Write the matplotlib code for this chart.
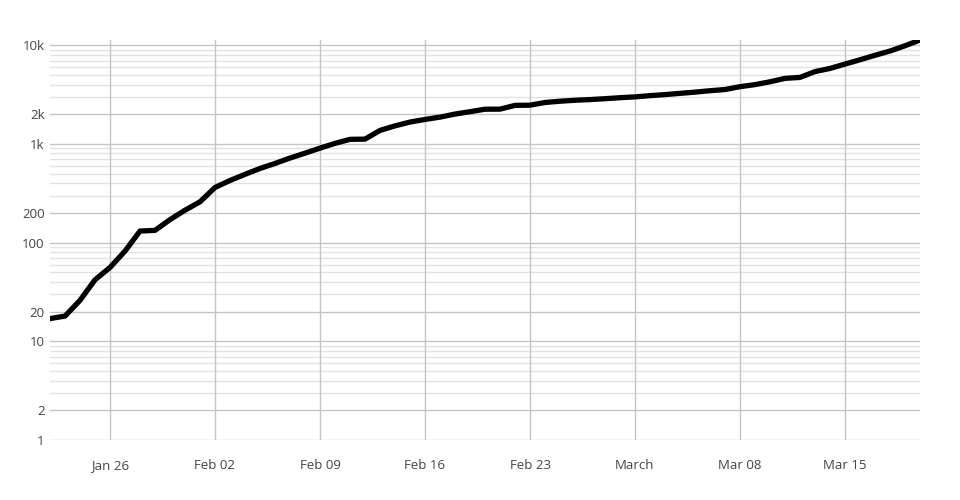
import datetime as dt
import numpy as np
import matplotlib
matplotlib.use("Agg")
import matplotlib.pyplot as plt
import matplotlib.dates as mdates
from matplotlib.ticker import FixedLocator, NullFormatter

plt.rcParams['font.family'] = ['Open Sans', 'DejaVu Sans']

start = dt.date(2020, 1, 22)
deaths = [17, 18, 26, 42, 56, 82, 131, 133, 171, 213,
          259, 362, 426, 492, 564, 634, 719, 806, 906, 1013,
          1113, 1118, 1371, 1523, 1666, 1770, 1868, 2007, 2122, 2247,
          2251, 2458, 2469, 2629, 2708, 2770, 2814, 2872, 2941, 2996,
          3085, 3160, 3254, 3348, 3460, 3558, 3802, 3988, 4262, 4615,
          4720, 5404, 5819, 6440, 7126, 7905, 8733, 9867, 11299]
dates = [start + dt.timedelta(days=i) for i in range(len(deaths))]

xtick_dates = [dt.date(2020, 1, 26), dt.date(2020, 2, 2), dt.date(2020, 2, 9),
               dt.date(2020, 2, 16), dt.date(2020, 2, 23), dt.date(2020, 3, 1),
               dt.date(2020, 3, 8), dt.date(2020, 3, 15)]
xtick_labels = ['Jan 26', 'Feb 02', 'Feb 09', 'Feb 16', 'Feb 23', 'March', 'Mar 08', 'Mar 15']
ytick_vals = [1, 2, 10, 20, 100, 200, 1000, 2000, 10000]
ytick_labels = ['1', '2', '10', '20', '100', '200', '1k', '2k', '10k']

fig = plt.figure(figsize=(9.6, 5), dpi=100)
ax = fig.add_axes([50 / 960, 60 / 500, 870 / 960, 400 / 500])

# grid lines for every 1..9 step in each decade
minor = [m * 10 ** d for d in range(5) for m in range(1, 10)]
minor = [v for v in minor if v not in ytick_vals and v < 11300]
for v in minor:
    ax.axhline(v, color='#e2e2e2', lw=1, zorder=0)
for v in ytick_vals:
    ax.axhline(v, color='#c4c4c4', lw=1, zorder=0)
for d in xtick_dates:
    ax.axvline(d, color='#c4c4c4', lw=1, zorder=0)

ax.plot(dates, deaths, color='black', lw=3.8, solid_joinstyle='round', zorder=3)

ax.set_yscale('log')
ax.set_ylim(1, 10 ** 4.053)
ax.set_xlim(dates[0], dates[-1])
ax.yaxis.set_major_locator(FixedLocator(ytick_vals))
ax.set_yticklabels(ytick_labels)
ax.yaxis.set_minor_formatter(NullFormatter())
ax.yaxis.set_minor_locator(FixedLocator([]))
ax.set_xticks(xtick_dates)
ax.set_xticklabels(xtick_labels)

ax.tick_params(axis='both', length=0, labelsize=9.5, labelcolor='#444444')
ax.tick_params(axis='y', pad=4)
ax.tick_params(axis='x', pad=14)
for s in ax.spines.values():
    s.set_visible(False)

fig.savefig('out.png', dpi=100)
